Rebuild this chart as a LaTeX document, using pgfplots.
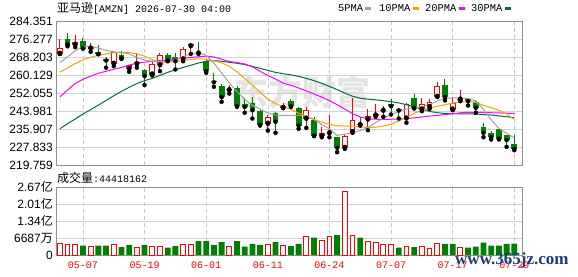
\documentclass[border=0pt]{standalone}
\usepackage{pgfplots}
\usepackage{pgfplotstable}
\pgfplotsset{compat=1.18}
\usepackage{fontspec}
\setmainfont{Liberation Sans}
\newfontfamily\cjk{Noto Sans CJK SC}
\newfontfamily\mono{Liberation Mono}
\newfontfamily\wserif{Liberation Serif}
\definecolor{kred}{RGB}{255,0,0}
\definecolor{kgreen}{RGB}{0,128,0}
\definecolor{ma5}{RGB}{160,160,160}
\definecolor{ma10}{RGB}{240,165,0}
\definecolor{ma20}{RGB}{255,0,255}
\definecolor{ma30}{RGB}{0,112,56}
\definecolor{bord}{RGB}{145,145,145}
\definecolor{hgrid}{RGB}{210,210,210}
\definecolor{vgrid}{RGB}{200,200,200}
\definecolor{wm}{RGB}{228,228,228}
\definecolor{navy}{RGB}{30,58,120}

% up candles: index open high low close
\pgfplotstableread{
i o h l c
0 269.6 276.4 269.6 272.3
2 273.7 278.2 272.6 275.0
4 272.0 274.3 270.5 272.7
7 265.15 271.1 264.1 270.5
9 262.9 264.4 261.55 264.4
10 265.0 269.8 263.4 265.9
12 260.35 266.05 259.9 265.15
13 264.5 270.1 261.85 269.3
16 267.1 272.8 266.3 271.9
17 273.05 274.6 269.6 274.25
22 253.3 255.7 251.8 253.9
27 238.25 242.4 235.2 241.3
29 245.4 247.65 245.2 246.1
32 240.5 245.85 236.4 244.65
34 232.7 236.7 232.2 234.2
35 234.0 242.1 232.2 234.2
37 227.45 233.4 227.0 232.7
38 234.5 249.9 234.2 240.15
39 237.7 241.2 237.45 238.2
40 240.15 244.95 235.35 241.95
41 241.95 246.9 241.4 242.7
42 244.1 246.1 241.4 244.2
45 240.6 247.65 238.7 247.2
47 244.65 249.9 243.9 247.2
48 245.7 249.15 244.95 247.9
49 250.35 256.9 250.35 255.4
51 244.65 250.2 244.35 247.65
52 249.1 253.2 248.4 249.4
}\upc

% down candles
\pgfplotstableread{
i o h l c
1 276.4 279.0 273.0 273.8
3 275.6 276.8 272.0 272.0
5 270.35 273.8 269.45 269.45
6 267.4 268.1 263.4 266.6
8 269.0 270.8 267.4 267.5
11 262.15 262.6 255.6 259.6
14 268.9 270.1 266.3 266.6
15 268.3 269.8 262.6 266.3
18 270.5 275.0 269.6 270.2
19 266.6 267.1 261.1 261.8
20 257.4 261.1 254.85 256.9
21 255.1 255.9 248.1 250.2
23 254.4 255.1 245.85 246.1
24 246.9 249.6 243.2 245.85
25 247.65 250.35 240.6 244.3
26 243.9 244.65 237.45 237.9
28 243.2 243.45 234.2 239.1
30 248.4 249.45 245.85 246.1
31 245.4 245.85 236.0 237.45
33 240.15 241.35 232.7 232.95
36 232.2 232.2 225.5 227.45
43 247.2 249.15 242.4 246.15
44 244.95 245.4 240.6 244.2
46 249.6 251.4 245.1 245.4
50 255.55 258.55 248.7 250.2
53 249.15 249.45 246.45 248.4
54 247.9 248.7 243.2 245.4
55 236.7 238.4 232.2 234.2
56 234.2 234.9 231.2 232.2
57 235.7 236.1 231.2 231.6
58 233.0 233.1 227.9 230.9
59 229.4 233.0 226.4 227.0
}\dnc

% moving averages
\pgfplotstableread{
i m5 m10 m20 m30
0 265.6 261.4 250.3 236.0
1 268.3 263.3 253.4 238.3
2 271.0 265.3 256.3 240.4
3 272.8 266.9 258.2 242.6
4 273.0 268.1 259.6 244.6
5 272.2 269.0 260.9 246.6
6 271.2 269.6 261.8 248.7
7 270.5 270.1 262.7 250.8
8 270.1 270.4 263.5 252.8
9 269.6 270.2 264.6 254.6
10 268.0 269.6 265.4 256.3
11 266.8 268.6 265.9 257.6
12 266.2 267.0 266.3 258.6
13 266.0 266.0 266.6 260.0
14 266.2 265.9 266.9 261.3
15 266.8 266.2 267.3 262.5
16 268.3 266.7 267.7 263.5
17 269.7 267.2 268.0 264.5
18 270.1 267.4 268.3 265.5
19 269.0 267.2 268.6 266.3
20 265.5 266.5 268.2 266.6
21 261.0 265.6 267.2 266.3
22 256.6 264.0 266.2 265.8
23 252.6 261.6 265.7 265.4
24 249.2 258.6 265.1 264.8
25 246.5 255.6 263.8 264.0
26 244.9 252.3 261.8 263.1
27 243.1 249.3 259.9 262.2
28 242.2 247.3 258.3 261.3
29 242.0 245.9 256.5 260.7
30 242.0 244.7 255.5 260.2
31 242.0 243.0 254.3 259.5
32 241.5 241.7 253.0 258.6
33 240.1 240.2 251.6 257.6
34 238.0 239.0 250.2 256.4
35 236.0 238.0 248.6 255.0
36 233.0 237.4 246.8 253.6
37 233.6 237.2 244.8 252.0
38 234.2 237.2 242.8 250.6
39 235.2 236.8 241.3 249.7
40 236.6 236.6 240.5 249.3
41 238.7 236.7 240.3 249.0
42 240.8 237.2 240.2 248.6
43 242.4 238.0 240.3 248.2
44 243.8 239.5 240.4 247.6
45 244.9 241.2 240.6 246.8
46 245.4 242.9 240.9 245.8
47 245.7 244.3 241.3 244.8
48 246.9 245.4 241.7 243.8
49 248.5 246.1 242.0 243.2
50 249.5 246.8 242.4 242.9
51 249.9 247.5 242.7 242.8
52 249.8 248.0 243.2 242.7
53 249.6 248.2 243.4 242.7
54 248.5 247.9 243.4 242.6
55 244.7 246.5 243.3 242.4
56 240.0 245.5 243.2 242.2
57 236.2 244.3 243.1 241.8
58 234.0 242.6 243.0 241.4
59 231.9 240.2 242.9 241.0
}\mas

% volume (millions), up days
\pgfplotstableread{
i v
0 45.7
1 39.2
2 41.8
4 35.2
7 39.2
10 31.3
12 35.2
13 35.2
16 39.2
17 39.2
22 35.2
27 39.2
29 36.5
32 74.4
34 58.7
35 70.5
37 250.6
38 78.3
40 54.8
41 47.0
42 39.2
43 39.2
45 35.2
47 35.2
48 26.1
49 43.1
52 31.3
}\vup

% volume (millions), down days
\pgfplotstableread{
i v
3 36.5
5 36.5
6 36.5
8 31.3
9 39.2
11 39.2
14 28.7
15 35.2
18 54.8
19 54.8
20 39.2
21 50.9
23 54.8
24 32.6
25 43.1
26 39.2
28 50.9
30 35.2
31 43.1
33 67.9
36 78.3
39 67.9
44 28.7
46 31.3
50 43.1
51 43.1
53 28.7
54 32.6
55 48.3
56 36.5
57 36.5
58 43.1
59 44.4
}\vdn

\pgfplotsset{
  kline/.style={
    scale only axis, width=466pt, xmin=-0.5, xmax=60,
    axis line style={draw=bord},
    major tick length=0pt, tick style={draw=none},
    xtick={3,11,19,27,35,43,51,59},
    xmajorgrids, ymajorgrids,
    x grid style={draw=vgrid, dash pattern=on 4pt off 3pt},
    y grid style={draw=hgrid, solid},
    yticklabel style={font=\fontsize{12}{14}\selectfont, anchor=east, inner sep=0pt, xshift=-3pt},
    clip=true,
  },
  wick/.style={only marks, mark=none, forget plot,
    error bars/.cd, y dir=plus, y explicit, error mark=none,
    error bar style={draw=#1, line width=1pt, solid}},
  body/.style 2 args={only marks, mark=none, forget plot,
    error bars/.cd, y dir=plus, y explicit, error mark=none,
    error bar style={draw=#1, line width=#2, solid}},
}

\begin{document}
\begin{tikzpicture}
\path[use as bounding box] (0pt,0pt) rectangle (578pt,276pt);
\node[anchor=center, text=wm, font=\cjk\fontsize{34}{34}\selectfont\bfseries] at (302pt,184pt) {东方财富};

\begin{axis}[kline, at={(56pt,111pt)}, anchor=south west, height=144pt,
  ymin=219.759, ymax=284.351,
  ytick={219.759,227.833,235.907,243.981,252.055,260.129,268.203,276.277,284.351},
  yticklabels={219.759,227.833,235.907,243.981,252.055,260.129,268.203,276.277,284.351},
  xticklabels={\mbox{},\mbox{},\mbox{},\mbox{},\mbox{},\mbox{},\mbox{},\mbox{}}]
  % wicks
  \addplot[wick=kred] table[x=i, y=l, y error plus expr={\thisrow{h}-\thisrow{l}}] {\upc};
  \addplot[wick=kgreen] table[x=i, y=l, y error plus expr={\thisrow{h}-\thisrow{l}}] {\dnc};
  % bodies
  \addplot[body={kgreen}{5.8pt}] table[x=i, y=c, y error plus expr={max(\thisrow{o}-\thisrow{c},0.45)}] {\dnc};
  \addplot[body={kred}{5.8pt}] table[x=i, y=o, y error plus expr={max(\thisrow{c}-\thisrow{o},0.45)}] {\upc};
  \addplot[body={white}{3.8pt}] table[x=i, y expr={\thisrow{o}+0.45}, y error plus expr={max(\thisrow{c}-\thisrow{o}-0.9,0)}] {\upc};
  % moving averages
  \addplot[ma30, line width=1pt, mark=none] table[x=i, y=m30] {\mas};
  \addplot[ma20, line width=1pt, mark=none] table[x=i, y=m20] {\mas};
  \addplot[ma10, line width=1pt, mark=none] table[x=i, y=m10] {\mas};
  \addplot[ma5, line width=1pt, mark=none] table[x=i, y=m5] {\mas};
\end{axis}

\begin{axis}[kline, at={(56pt,21pt)}, anchor=south west, height=68.3pt,
  ymin=0, ymax=267.48,
  ytick={0,66.87,133.74,200.61,267.48},
  yticklabels={0,6687{\cjk 万},1.34{\cjk 亿},2.01{\cjk 亿},2.67{\cjk 亿}},
  xticklabels={05-07,05-19,06-01,06-11,06-24,07-07,07-17,07-29},
  xticklabel style={font=\mono\fontsize{10}{12}\selectfont, text=kred, anchor=center, yshift=-10pt}]
  \addplot[ybar, bar width=4.8pt, bar shift=0pt, draw=kred, fill=white, line width=1pt] table[x=i, y=v] {\vup};
  \addplot[ybar, bar width=5.8pt, bar shift=0pt, fill=kgreen, draw=none] table[x=i, y=v] {\vdn};
\end{axis}

% header
\node[anchor=west, inner sep=0pt] at (57pt,267.7pt) {{\cjk\fontsize{12}{14}\selectfont 亚马逊}{\mono\fontsize{10}{12}\selectfont [AMZN] 2026-07-30 04:00}};
\node[anchor=west, inner sep=0pt, font=\mono\fontsize{10.4}{12}\selectfont] at (338pt,267.5pt) {5PMA};
\fill[ma5] (365pt,265.5pt) rectangle (371pt,269pt);
\node[anchor=west, inner sep=0pt, font=\mono\fontsize{10.4}{12}\selectfont] at (379pt,267.5pt) {10PMA};
\fill[ma10] (413pt,265.5pt) rectangle (419pt,269pt);
\node[anchor=west, inner sep=0pt, font=\mono\fontsize{10.4}{12}\selectfont] at (425pt,267.5pt) {20PMA};
\fill[ma20] (459pt,265.5pt) rectangle (465pt,269pt);
\node[anchor=west, inner sep=0pt, font=\mono\fontsize{10.4}{12}\selectfont] at (471pt,267.5pt) {30PMA};
\fill[ma30] (505pt,265.5pt) rectangle (511pt,269pt);
% volume title
\node[anchor=west, inner sep=0pt] at (57pt,98.3pt) {{\cjk\fontsize{12}{14}\selectfont 成交量}{\mono\fontsize{10}{12}\selectfont :44418162}};
% site watermark
\node[anchor=west, inner sep=0pt, text=navy, font=\wserif\bfseries\fontsize{17}{17}\selectfont] at (455pt,16pt) {www.365jz.com};
\end{tikzpicture}
\end{document}
